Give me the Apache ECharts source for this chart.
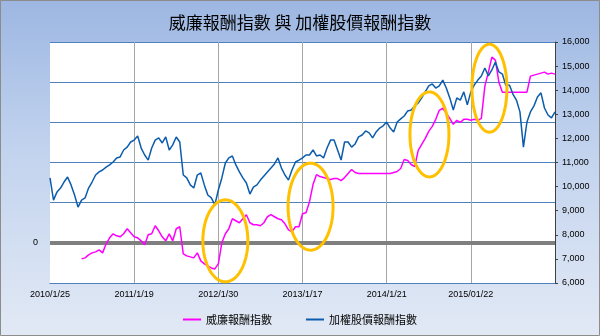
<!DOCTYPE html>
<html>
<head>
<meta charset="utf-8">
<script src="https://cdn.jsdelivr.net/npm/echarts@6/dist/echarts.min.js"></script>
<style>
  html, body { margin: 0; padding: 0; background: #ffffff; }
  #chart { width: 600px; height: 336px; }
</style>
</head>
<body>
<div id="chart"></div>
<script>
// Date labels shown along the bottom axis, one every `samplesPerLabel` samples
const tickLabels = ['2010/1/25', '2011/1/19', '2012/1/30', '2013/1/17', '2014/1/21', '2015/01/22'];
const samplesPerLabel = 24;

// 威廉報酬指數 (% change, left axis); no data before the first readings
const williamsReturn = [
  null, null, null, null, null, null, null, null, null,
  -8, -7.5, -6, -5, -4.5, -3.5, -5, -0.5, 2.5, 4.5,
  3.5, 3, 4.5, 7, 5, 3, 2.5, 1, -1, 4,
  4.5, 8.5, 6, 3, 1, 4.5, 1, 7, 8, -5.5,
  -6.5, -7, -7.5, -5, -9, -10.5, -11.5, -12.5, -13, -10.5,
  0, 4.5, 7, 12, 11, 10, 12, 14, 10, 9,
  9, 8.5, 10, 13, 14, 13, 12, 11.5, 9.5, 6.5,
  5.5, 8, 8, 14.5, 15, 20.5, 29, 34, 33, 32.5,
  32, 31.5, 32, 32, 31, 32.5, 34.5, 36.5, 35, 34.5,
  34.5, 34.5, 34.5, 34.5, 34.5, 34.5, 34.5, 34.5, 34.5, 35,
  35.5, 37, 41.5, 41, 39, 38, 46, 49, 52, 55.5,
  58, 61.5, 66, 67, 64.5, 62, 59, 61, 60, 61.5,
  61.5, 61, 61.5, 61, 62, 78, 85, 92.5, 91, 80,
  75, 75, 75, 75, 75, 75, 75, 75, 83, 83.5,
  84, 84.5, 85, 84, 84.5, 84
];

// 加權股價報酬指數 (points, right axis)
const taiexReturn = [
  10360, 9440, 9780, 9940, 10190, 10400, 10070, 9650, 9150, 9440,
  9530, 9940, 10190, 10480, 10610, 10690, 10810, 10900, 11020, 11190,
  11230, 11520, 11640, 11850, 11930, 12100, 11600, 11310, 11100, 11600,
  11930, 12020, 11810, 12060, 11520, 11730, 12060, 11850, 10480, 10360,
  10070, 9940, 10480, 10570, 10070, 9650, 9530, 9240, 9860, 10360,
  10980, 11190, 11270, 10900, 10610, 10360, 10150, 9690, 9980, 10070,
  10270, 10440, 10610, 10770, 10940, 11190, 10770, 10480, 10270, 10690,
  11020, 11100, 11190, 11310, 11310, 11520, 11270, 11310, 11190, 11600,
  11930, 11930, 11520, 11100, 11850, 11850, 11640, 11770, 12060, 12140,
  12310, 12230, 12020, 12270, 12430, 12520, 12680, 12430, 12270, 12680,
  12810, 12930, 13140, 13180, 13350, 13470, 13680, 13930, 14180, 14260,
  14090, 14180, 14420, 14090, 13680, 13180, 13680, 13590, 13930, 13390,
  13930, 14220, 14420, 14590, 14920, 14590, 14840, 15170, 14760, 14670,
  14180, 14220, 13840, 13590, 13100, 11640, 12680, 13100, 13350, 13720,
  13890, 13260, 12970, 12850, 13100
];

// Sample index and 威廉 value at the centre of each highlighted surge
const surgeIndex = [50, 74.3, 108.2, 125.3];
const surgeValue = [1, 18, 54, 77];

const seriesNames = ['威廉報酬指數', '加權股價報酬指數'];

const lastIndex = taiexReturn.length - 1;
const cjk = '"Noto Sans CJK TC", "Noto Sans CJK SC", sans-serif';
const latin = '"Liberation Sans", Arial, sans-serif';

const chart = echarts.init(document.getElementById('chart'), null, { renderer: 'canvas' });

chart.setOption({
  animation: false,
  backgroundColor: {
    type: 'linear', x: 0, y: 0, x2: 0, y2: 1,
    colorStops: [
      { offset: 0, color: '#9db7e2' },
      { offset: 0.45, color: '#c2d3ee' },
      { offset: 1, color: '#e2e9f5' }
    ]
  },
  title: {
    text: '威廉報酬指數 與 加權股價報酬指數',
    left: 'center',
    top: 9,
    textStyle: { fontFamily: cjk, fontSize: 17, fontWeight: 'normal', color: '#000000' }
  },
  legend: {
    data: seriesNames,
    top: 309,
    left: 'center',
    icon: 'rect',
    itemWidth: 18,
    itemHeight: 2,
    itemGap: 34,
    textStyle: { fontFamily: cjk, fontSize: 11, color: '#000000' }
  },
  grid: {
    left: 50, right: 45, top: 42, bottom: 53,
    show: true, backgroundColor: '#ffffff', borderWidth: 0
  },
  xAxis: {
    type: 'value',
    min: 0,
    max: lastIndex,
    interval: samplesPerLabel,
    axisLine: { show: true, onZero: false, lineStyle: { color: '#4f81bd', width: 1 } },
    axisTick: { show: false },
    axisLabel: {
      margin: 7,
      fontFamily: latin, fontSize: 9, color: '#000000',
      formatter: v => tickLabels[Math.round(v / samplesPerLabel)] || ''
    },
    splitLine: {
      show: true,
      lineStyle: {
        color: ['rgba(0,0,0,0)', '#a6a6a6', '#a6a6a6', '#a6a6a6', '#a6a6a6', '#a6a6a6', '#a6a6a6'],
        width: 1
      }
    }
  },
  yAxis: [
    {
      type: 'value',
      position: 'left',
      min: -20,
      max: 100,
      interval: 20,
      axisLine: { show: false },
      axisTick: { show: false },
      axisLabel: {
        margin: 12,
        fontFamily: latin, fontSize: 9, color: '#000000',
        formatter: v => (v === 0 ? '0' : '')
      },
      splitLine: { show: true, lineStyle: { color: '#4f81bd', width: 1 } }
    },
    {
      type: 'value',
      position: 'right',
      min: 6000,
      max: 16000,
      interval: 1000,
      axisLine: { show: true, lineStyle: { color: '#404040', width: 1 } },
      axisTick: { show: true, length: 3, inside: false, lineStyle: { color: '#404040' } },
      axisLabel: {
        margin: 7,
        fontFamily: latin, fontSize: 9, color: '#000000',
        formatter: v => v.toLocaleString('en-US')
      },
      splitLine: { show: false }
    }
  ],
  series: [
    {
      name: seriesNames[0],
      type: 'line',
      yAxisIndex: 0,
      data: williamsReturn.map((v, i) => [i, v == null ? '-' : v]),
      showSymbol: false,
      color: '#ff00ff',
      lineStyle: { color: '#ff00ff', width: 1.5 },
      z: 2,
      markLine: {
        silent: true,
        z: 1,
        symbol: 'none',
        label: { show: false },
        lineStyle: { color: '#7f7f7f', width: 4, type: 'solid' },
        data: [{ yAxis: 0 }]
      }
    },
    {
      name: seriesNames[1],
      type: 'line',
      yAxisIndex: 1,
      data: taiexReturn.map((v, i) => [i, v]),
      showSymbol: false,
      color: '#0b5cad',
      lineStyle: { color: '#0b5cad', width: 1.5 },
      z: 3
    }
  ]
});

// Orange rings around the four surges, placed through the axes' own scales
const ringRadii = [[22.5, 41], [22.5, 43.5], [19.5, 42.5], [17.5, 44]];
const rings = surgeIndex.map((idx, k) => {
  const c = chart.convertToPixel({ xAxisIndex: 0, yAxisIndex: 0 }, [idx, surgeValue[k]]);
  const [rx, ry] = ringRadii[k];
  const pts = [];
  for (let a = 0; a < 96; a++) {
    const t = (a / 96) * Math.PI * 2;
    pts.push([c[0] + rx * Math.cos(t), c[1] + ry * Math.sin(t)]);
  }
  return {
    type: 'polygon',
    silent: true,
    z: 100,
    shape: { points: pts },
    style: { fill: 'none', stroke: '#ffc000', lineWidth: 3 }
  };
});

chart.setOption({
  graphic: rings.concat([{
    type: 'rect',
    silent: true,
    z: 100,
    shape: { x: 0.5, y: 0.5, width: 599, height: 335 },
    style: { fill: 'none', stroke: '#8c8c8c', lineWidth: 1 }
  }])
});
</script>
</body>
</html>
